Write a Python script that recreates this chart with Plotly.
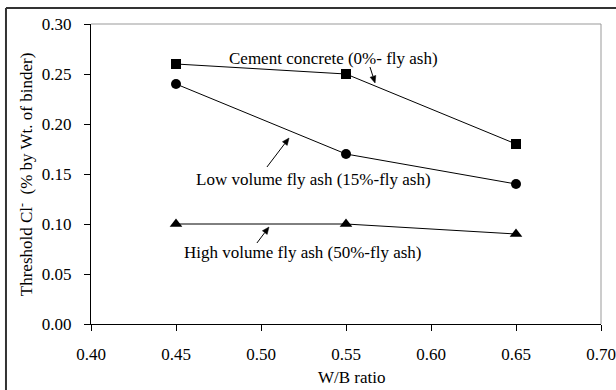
import math
import plotly.graph_objects as go

wb_ratio = [0.45, 0.55, 0.65]
cement_concrete = [0.26, 0.25, 0.18]
low_volume = [0.24, 0.17, 0.14]
high_volume = [0.10, 0.10, 0.09]

x_ticks = [0.40, 0.45, 0.50, 0.55, 0.60, 0.65, 0.70]
y_ticks = [0.00, 0.05, 0.10, 0.15, 0.20, 0.25, 0.30]

FONT = "Liberation Serif, Times New Roman, serif"
FS = 17
TFS = 17

X_RANGE = [0.40, 0.70]
Y_RANGE = [0.0, 0.30]
W, H = 616, 390
ML, MR, MT, MB = 91, 15, 24, 66
PX_X = (W - ML - MR) / (X_RANGE[1] - X_RANGE[0])
PX_Y = (H - MT - MB) / (Y_RANGE[1] - Y_RANGE[0])

fig = go.Figure()
series = [
    (cement_concrete, "square", 10),
    (low_volume, "circle", 10),
    (high_volume, "triangle-up", 11),
]
for vals, sym, sz in series:
    fig.add_trace(go.Scatter(
        x=wb_ratio, y=vals, mode="lines+markers",
        line=dict(color="black", width=1),
        marker=dict(symbol=sym, size=sz, color="black"),
        showlegend=False, cliponaxis=False,
    ))

axis_common = dict(
    showgrid=False, zeroline=False, showline=True, linecolor="black", linewidth=1,
    ticks="outside", ticklen=6, tickcolor="black", tickwidth=1, automargin=False,
    tickfont=dict(family=FONT, size=TFS, color="black"),
)
fig.update_xaxes(range=X_RANGE, tickvals=x_ticks,
                 ticktext=[f"{v:.2f}" for v in x_ticks], ticklabelstandoff=9, **axis_common)
fig.update_yaxes(range=Y_RANGE, tickvals=y_ticks,
                 ticktext=[f"{v:.2f}" for v in y_ticks], ticklabelstandoff=9, **axis_common)

# gray top/right plot border
fig.add_shape(type="line", xref="paper", yref="paper", x0=0, x1=1, y0=1, y1=1,
              line=dict(color="#999999", width=1))
fig.add_shape(type="line", xref="paper", yref="paper", x0=1, x1=1, y0=0, y1=1,
              line=dict(color="#999999", width=1))
# outer frame (top and left)
fig.add_shape(type="line", xref="paper", yref="paper", x0=-0.1667, x1=1.03, y0=1.0533, y1=1.0533,
              line=dict(color="#333333", width=2))
fig.add_shape(type="line", xref="paper", yref="paper", x0=-0.1667, x1=-0.1667, y0=1.0533, y1=-0.22,
              line=dict(color="#333333", width=2))

tf = dict(family=FONT, size=FS, color="black")
texts = [
    ("Cement concrete (0%- fly ash)", 0.5429, 0.266),
    ("Low volume fly ash (15%-fly ash)", 0.5309, 0.145),
    ("High volume fly ash (50%-fly ash)", 0.5247, 0.072),
]
for t, x, y in texts:
    fig.add_annotation(x=x, y=y, xref="x", yref="y", text=t, showarrow=False,
                       font=tf, xanchor="center", yanchor="middle")

# pointer arrows (tail x, tail y, tip x, tip y) in data units
arrows = [
    (0.5641, 0.257, 0.5671, 0.241),
    (0.5035, 0.157, 0.5165, 0.186),
    (0.4976, 0.081, 0.5047, 0.097),
]
HEAD_L, HEAD_W = 7.0, 3.0
for ax, ay, x, y in arrows:
    dxp = (x - ax) * PX_X
    dyp = (y - ay) * PX_Y
    L = math.hypot(dxp, dyp)
    ux, uy = dxp / L, dyp / L
    bx, by = -ux * HEAD_L, -uy * HEAD_L
    p1 = (x + (bx - uy * HEAD_W) / PX_X, y + (by + ux * HEAD_W) / PX_Y)
    p2 = (x + (bx + uy * HEAD_W) / PX_X, y + (by - ux * HEAD_W) / PX_Y)
    base = (x + bx / PX_X, y + by / PX_Y)
    fig.add_shape(type="line", xref="x", yref="y", x0=ax, y0=ay, x1=base[0], y1=base[1],
                  line=dict(color="black", width=1))
    fig.add_shape(type="path", xref="x", yref="y",
                  path=f"M {x} {y} L {p1[0]} {p1[1]} L {p2[0]} {p2[1]} Z",
                  fillcolor="black", line=dict(color="black", width=0.5))

fig.add_annotation(x=-0.129, y=0.5, xref="paper", yref="paper",
                   text="Threshold Cl<sup>-</sup>  (% by Wt. of binder)", textangle=-90,
                   showarrow=False, font=tf, xanchor="center", yanchor="middle")
fig.add_annotation(x=0.512, y=-0.1767, xref="paper", yref="paper",
                   text="W/B ratio", showarrow=False, font=tf,
                   xanchor="center", yanchor="middle")

fig.update_layout(
    width=W, height=H, autosize=False,
    margin=dict(l=ML, r=MR, t=MT, b=MB, autoexpand=False),
    paper_bgcolor="white", plot_bgcolor="white",
    font=dict(family=FONT, size=FS, color="black"),
)
fig.write_html(
    "out.html",
    config={"responsive": False, "displayModeBar": False},
    post_script="document.documentElement.style.overflow='hidden';"
                "document.body.style.margin='0';document.body.style.overflow='hidden';",
)
